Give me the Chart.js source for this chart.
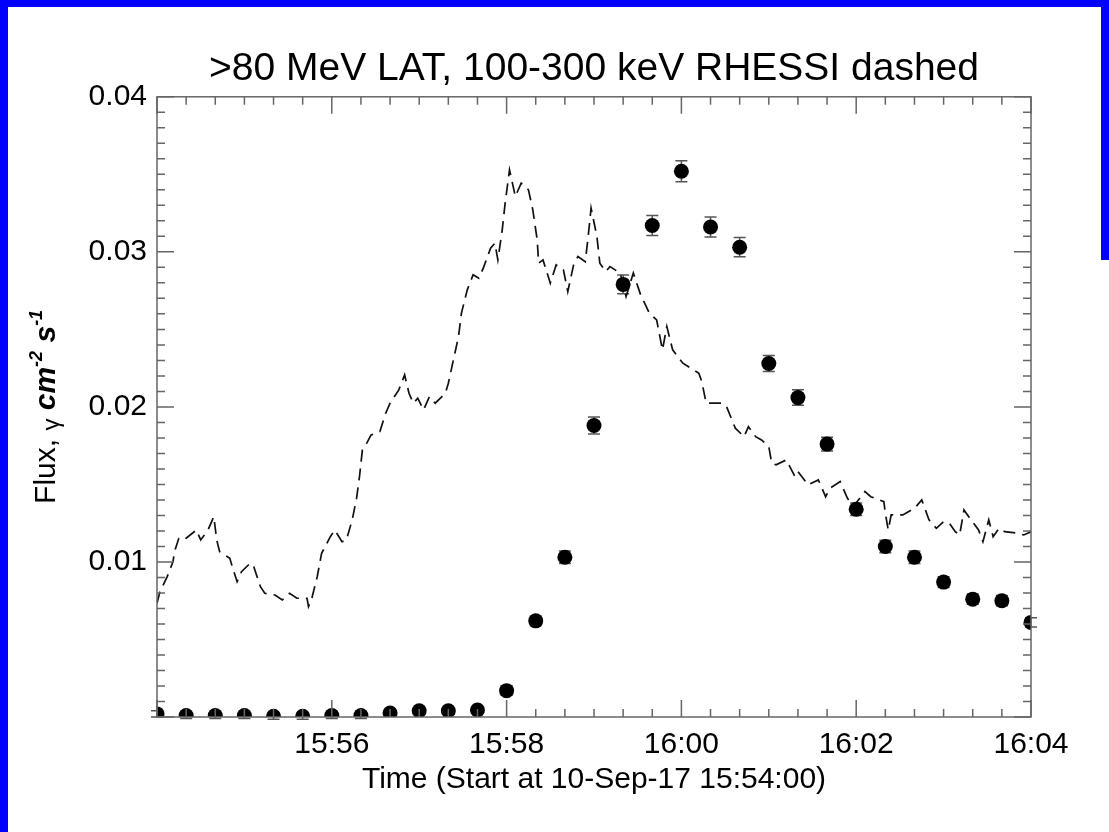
<!DOCTYPE html>
<html>
<head>
<meta charset="utf-8">
<script src="https://cdn.jsdelivr.net/npm/chart.js@4.4.1/dist/chart.umd.min.js"></script>
<style>
  body { margin: 0; background: #fff; }
  #wrap { width: 1109px; height: 832px; }
</style>
</head>
<body>
<div id="wrap"><canvas id="flux-chart" width="1109" height="832"></canvas></div>
<script>
// LAT >80 MeV flux, seconds after 15:54:00
const latTimes = [0, 20, 40, 60, 80, 100, 120, 140, 160, 180, 200, 220, 240, 260, 280, 300,
  320, 340, 360, 380, 400, 420, 440, 460, 480, 500, 520, 540, 560, 580, 600];
const latFlux = [0.0002, 0.0001, 0.0001, 0.0001, 0.00005, 0.00005, 0.0001, 0.0001, 0.00025, 0.0004,
  0.0004, 0.00045, 0.0017, 0.0062, 0.0103, 0.0188, 0.0279, 0.0317, 0.0352, 0.0316, 0.0303,
  0.0228, 0.0206, 0.0176, 0.0134, 0.0110, 0.0103, 0.0087, 0.0076, 0.0075, 0.0061];
const latErr = [0.0002, 0.0002, 0.0002, 0.0002, 0.0002, 0.0002, 0.0002, 0.0002, 0.0002, 0.0002,
  0.0002, 0.0002, 0.0003, 0.0003, 0.0004, 0.00055, 0.0006, 0.00065, 0.00068, 0.00065, 0.00062,
  0.00052, 0.0005, 0.00045, 0.0004, 0.0004, 0.0004, 0.00035, 0.00033, 0.00033, 0.0003];

// RHESSI 100-300 keV (scaled), seconds after 15:54:00
const rhessiTimes = [0, 2, 7, 11, 12, 15, 17, 20, 27, 30, 35, 39, 41, 43, 50, 52, 55, 58, 64, 66,
  71, 74, 81, 86, 91, 96, 103, 104, 106, 110, 113, 119, 122, 127, 130, 134, 137, 139, 141, 144,
  147, 153, 157, 160, 166, 170, 173, 176, 179, 183, 187, 191, 198, 200, 203, 207, 209, 213, 217, 221,
  224, 229, 232, 234, 237, 239, 242, 246, 250, 255, 258, 261, 262, 265, 270, 274, 279, 282, 286, 289,
  294, 296, 298, 302, 304, 308, 311, 318, 322, 327, 332, 338, 343, 347, 350, 354, 361, 372, 374, 377,
  388, 391, 397, 403, 406, 411, 415, 420, 422, 425, 432, 438, 440, 447, 454, 459, 462, 469, 474, 478,
  486, 490, 499, 500, 502, 504, 512, 520, 525, 530, 535, 540, 544, 548, 551, 554, 558, 564, 567, 571,
  574, 578, 582, 591, 595, 600];
const rhessiFlux = [0.00734, 0.00808, 0.00905, 0.01002, 0.01066, 0.01153, 0.01163, 0.01153, 0.01206, 0.01142,
  0.01206, 0.01292, 0.01142, 0.01066, 0.01024, 0.00959, 0.00873, 0.00937, 0.00992, 0.00981,
  0.00841, 0.00798, 0.00787, 0.00755, 0.00798, 0.00766, 0.00766, 0.00712, 0.00755, 0.00905,
  0.01056, 0.01163, 0.01206, 0.0113, 0.01142, 0.01271, 0.0141, 0.0155, 0.01723, 0.01766,
  0.01819, 0.01841, 0.01959, 0.02024, 0.0211, 0.02206, 0.02088, 0.02024, 0.02056, 0.01981,
  0.02066, 0.02024, 0.02088, 0.02153, 0.02282, 0.02454, 0.02605, 0.02755, 0.02852, 0.0283,
  0.02895, 0.03024, 0.03056, 0.02948, 0.03142, 0.03314, 0.03529, 0.03357, 0.03443, 0.034,
  0.03271, 0.03077, 0.02927, 0.02948, 0.02798, 0.02916, 0.02884, 0.02744, 0.02916, 0.0297,
  0.02937, 0.03099, 0.03282, 0.03099, 0.02927, 0.02873, 0.02905, 0.02863, 0.02712, 0.02863,
  0.02723, 0.02605, 0.02561, 0.02368, 0.02518, 0.02368, 0.02282, 0.02217, 0.02163, 0.02024,
  0.02024, 0.02002, 0.01863, 0.01808, 0.01873, 0.01808, 0.01787, 0.01744, 0.01637, 0.01626,
  0.01658, 0.0155, 0.01583, 0.01497, 0.01529, 0.01421, 0.01475, 0.01518, 0.01411, 0.01357,
  0.01454, 0.01421, 0.01389, 0.01314, 0.01206, 0.01303, 0.01303, 0.01346, 0.014, 0.01271,
  0.01217, 0.0126, 0.0125, 0.01195, 0.01174, 0.01335, 0.01282, 0.01206, 0.01131, 0.01271,
  0.01163, 0.01217, 0.01195, 0.01185, 0.01174, 0.01195];

// axis ticks
const xTickValues = [0, 120, 240, 360, 480, 600];
const xTickLabels = ['', '15:56', '15:58', '16:00', '16:02', '16:04'];
const yTickValues = [0, 0.01, 0.02, 0.03, 0.04];
const yTickLabels = ['', '0.01', '0.02', '0.03', '0.04'];

const titleText = '>80 MeV LAT, 100-300 keV RHESSI dashed';
const xTitle = 'Time (Start at 10-Sep-17 15:54:00)';
const FONT = '"Liberation Sans", Arial, Helvetica, sans-serif';

const idlFrame = {
  id: 'idlFrame',
  beforeDraw(chart) {
    const { ctx, width, height } = chart;
    ctx.save();
    ctx.fillStyle = '#ffffff';
    ctx.fillRect(0, 0, width, height);
    ctx.fillStyle = '#0000ff';
    ctx.fillRect(0, 0, 8, height);
    ctx.fillRect(0, 0, width, 7);
    ctx.fillRect(width - 8, 0, 8, 260);
    ctx.restore();
  },
  beforeDatasetsDraw(chart) {
    // error bars on the LAT points
    const { ctx, scales: { x, y } } = chart;
    ctx.save();
    ctx.strokeStyle = '#555';
    ctx.lineWidth = 1.5;
    ctx.beginPath();
    latTimes.forEach((t, i) => {
      const px = x.getPixelForValue(t);
      const lo = y.getPixelForValue(latFlux[i] - latErr[i]);
      const hi = y.getPixelForValue(latFlux[i] + latErr[i]);
      ctx.moveTo(px, lo); ctx.lineTo(px, hi);
      ctx.moveTo(px - 6, lo); ctx.lineTo(px + 6, lo);
      ctx.moveTo(px - 6, hi); ctx.lineTo(px + 6, hi);
    });
    ctx.stroke();
    ctx.restore();
  },
  afterDraw(chart) {
    const { ctx, chartArea: a, scales: { x, y } } = chart;
    ctx.save();
    ctx.strokeStyle = '#666';
    ctx.lineWidth = 1.5;
    ctx.strokeRect(a.left, a.top, a.right - a.left, a.bottom - a.top);
    ctx.beginPath();
    for (let s = 0; s <= 600; s += 20) {
      const px = x.getPixelForValue(s);
      const len = s % 120 === 0 ? 17 : 8;
      ctx.moveTo(px, a.bottom); ctx.lineTo(px, a.bottom - len);
      ctx.moveTo(px, a.top); ctx.lineTo(px, a.top + len);
    }
    for (let i = 0; i <= 40; i++) {
      const py = y.getPixelForValue(i / 1000);
      const len = i % 10 === 0 ? 17 : 8;
      ctx.moveTo(a.left, py); ctx.lineTo(a.left + len, py);
      ctx.moveTo(a.right, py); ctx.lineTo(a.right - len, py);
    }
    ctx.stroke();

    // y axis title with super/subscripts
    const parts = [
      { t: 'Flux, ', f: '30px ' + FONT, dy: 0 },
      { t: 'γ', f: '24px ' + FONT, dy: 4 },
      { t: ' ', f: '30px ' + FONT, dy: 0 },
      { t: 'cm', f: 'italic bold 30px ' + FONT, dy: 0 },
      { t: '-2', f: 'italic bold 18px ' + FONT, dy: -13 },
      { t: ' s', f: 'italic bold 30px ' + FONT, dy: 0 },
      { t: '-1', f: 'italic bold 18px ' + FONT, dy: -13 }
    ];
    let total = 0;
    parts.forEach(p => { ctx.font = p.f; p.w = ctx.measureText(p.t).width; total += p.w; });
    ctx.translate(55, (a.top + a.bottom) / 2);
    ctx.rotate(-Math.PI / 2);
    ctx.fillStyle = '#000';
    ctx.textBaseline = 'alphabetic';
    ctx.textAlign = 'left';
    let cx = -total / 2;
    parts.forEach(p => { ctx.font = p.f; ctx.fillText(p.t, cx, p.dy); cx += p.w; });
    ctx.restore();
  }
};

new Chart(document.getElementById('flux-chart'), {
  data: {
    datasets: [{
      type: 'scatter',
      label: 'LAT >80 MeV',
      data: latTimes.map((t, i) => ({ x: t, y: latFlux[i] })),
      pointRadius: 7.5,
      pointBackgroundColor: '#000',
      pointBorderWidth: 0,
      clip: 0,
      order: 0
    }, {
      type: 'line',
      label: 'RHESSI 100-300 keV',
      data: rhessiTimes.map((t, i) => ({ x: t, y: rhessiFlux[i] })),
      borderColor: '#111',
      borderWidth: 1.7,
      borderDash: [12, 7],
      pointRadius: 0,
      tension: 0,
      fill: false,
      clip: 0,
      order: 1
    }]
  },
  options: {
    responsive: false,
    animation: false,
    layout: { padding: { left: 0, top: 0, right: 78, bottom: 0 } },
    plugins: {
      legend: { display: false },
      tooltip: { enabled: false },
      title: {
        display: true,
        text: titleText,
        fullSize: false,
        color: '#000',
        font: { family: FONT, size: 39, weight: 'normal', lineHeight: 1.2 },
        padding: { top: 46, bottom: 4 }
      }
    },
    scales: {
      x: {
        type: 'linear',
        min: 0,
        max: 600,
        afterFit: s => { s.height = 115; },
        grid: { display: false, drawTicks: false },
        border: { display: false },
        afterBuildTicks: s => { s.ticks = xTickValues.map(v => ({ value: v })); },
        ticks: {
          autoSkip: false,
          maxRotation: 0,
          padding: 10,
          color: '#000',
          font: { family: FONT, size: 30 },
          callback: v => xTickLabels[xTickValues.indexOf(v)]
        },
        title: {
          display: true,
          text: xTitle,
          color: '#000',
          font: { family: FONT, size: 30, lineHeight: 1.2 },
          padding: { top: 0, bottom: 34 }
        }
      },
      y: {
        min: 0,
        max: 0.04,
        afterFit: s => { s.width = 157; },
        grid: { display: false, drawTicks: false },
        border: { display: false },
        afterBuildTicks: s => { s.ticks = yTickValues.map(v => ({ value: v })); },
        ticks: {
          padding: 10,
          color: '#000',
          font: { family: FONT, size: 30 },
          callback: v => yTickLabels[yTickValues.indexOf(v)]
        }
      }
    }
  },
  plugins: [idlFrame]
});
</script>
</body>
</html>
